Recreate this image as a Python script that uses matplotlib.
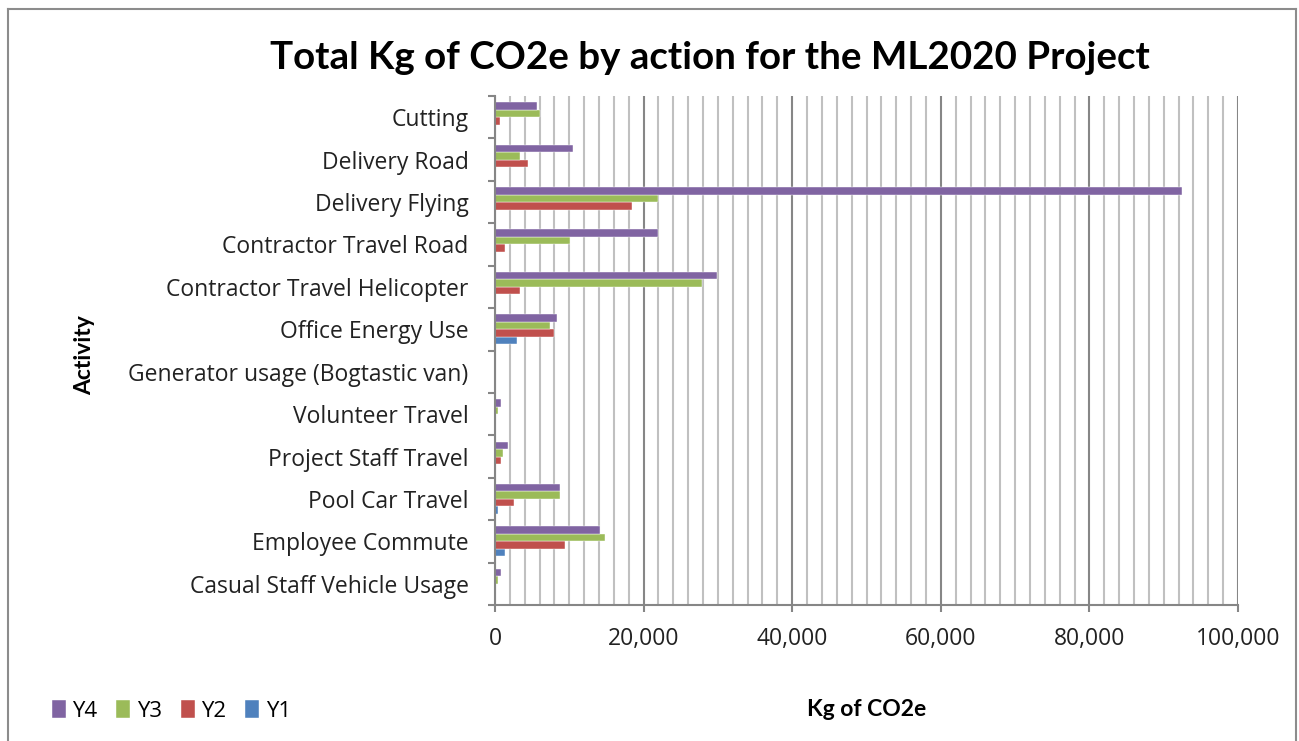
import matplotlib
matplotlib.use("Agg")
import matplotlib.pyplot as plt
from matplotlib.lines import Line2D
from matplotlib.ticker import MultipleLocator, FuncFormatter, FixedLocator
import numpy as np

plt.rcParams['font.family'] = ['Open Sans', 'DejaVu Sans']

categories = ["Cutting", "Delivery Road", "Delivery Flying", "Contractor Travel Road",
              "Contractor Travel Helicopter", "Office Energy Use",
              "Generator usage (Bogtastic van)", "Volunteer Travel", "Project Staff Travel",
              "Pool Car Travel", "Employee Commute", "Casual Staff Vehicle Usage"]
y4 = [5700, 10500, 92400, 21900, 29900, 8400, 0, 850, 1700, 8800, 14100, 750]
y3 = [6100, 3400, 22000, 10100, 27900, 7400, 0, 350, 1050, 8800, 14800, 350]
y2 = [700, 4500, 18400, 1400, 3400, 7900, 0, 0, 850, 2600, 9400, 0]
y1 = [0, 0, 0, 0, 0, 3000, 0, 0, 0, 350, 1400, 0]
series_names = ["Y1", "Y2", "Y3", "Y4"]
series_colors = ["#4F81BD", "#C0504D", "#9BBB59", "#8064A2"]
series_values = [y1, y2, y3, y4]

W, H = 1299, 741
fig = plt.figure(figsize=(W / 100, H / 100), dpi=100)
ax = fig.add_axes([495 / W, 1 - 605 / H, 743 / W, 509 / H])

n = len(categories)
pos = np.arange(n)[::-1]  # Cutting at top
h = 0.177
offsets = [-1.5 * h, -0.5 * h, 0.5 * h, 1.5 * h]
handles = []
for name, col, vals, off in zip(series_names, series_colors, series_values, offsets):
    b = ax.barh(pos + off, vals, height=h, color=col, edgecolor='white', linewidth=0.3,
                label=name, zorder=3)
    handles.append(b)

ax.set_xlim(0, 100000)
ax.set_ylim(-0.5, n - 0.5)

# grid
ax.xaxis.set_major_locator(MultipleLocator(20000))
ax.xaxis.set_minor_locator(MultipleLocator(2000))
ax.xaxis.set_major_formatter(FuncFormatter(lambda v, p: f"{int(v):,}"))
ax.grid(axis='x', which='minor', color='#C0C0C0', lw=1.5, zorder=0)
ax.grid(axis='x', which='major', color='#868686', lw=1.5, zorder=1)
ax.set_axisbelow(True)

ax.set_yticks(pos)
ax.set_yticklabels(categories)
ax.yaxis.set_minor_locator(FixedLocator(np.arange(n + 1) - 0.5))
ax.tick_params(axis='y', which='major', length=0, pad=19, labelsize=16.5, labelcolor='#222222')
ax.tick_params(axis='y', which='minor', length=5, width=1.5, color='#868686', direction='out')
ax.tick_params(axis='x', which='major', length=5, width=1.5, color='#868686', direction='out',
               pad=11, labelsize=16.5, labelcolor='#222222')
ax.tick_params(axis='x', which='minor', length=0)

for s in ['top', 'right']:
    ax.spines[s].set_visible(False)
for s in ['left', 'bottom']:
    ax.spines[s].set_color('#868686')
    ax.spines[s].set_linewidth(1.5)
    ax.spines[s].set_zorder(4)

fig.text(710 / W, 1 - 58 / H, "Total Kg of CO2e by action for the ML2020 Project",
         ha='center', va='center', fontsize=27.7, fontweight='bold', color='black',
         family=['Lato', 'DejaVu Sans'])
fig.text(867 / W, 1 - 710 / H, "Kg of CO2e", ha='center', va='center',
         fontsize=16.5, fontweight='bold', color='black', family=['Lato', 'DejaVu Sans'])
fig.text(85 / W, 1 - 355 / H, "Activity", ha='center', va='center', rotation=90,
         fontsize=16.5, fontweight='bold', color='black', family=['Lato', 'DejaVu Sans'])

leg_handles = handles[::-1]
fig.legend(leg_handles, [hh.get_label() for hh in leg_handles], loc='center left',
           bbox_to_anchor=(52 / W, 1 - 711 / H), ncol=4, frameon=False, fontsize=16,
           handlelength=0.62, handleheight=0.85, handletextpad=0.3, columnspacing=0.85,
           borderaxespad=0, borderpad=0)

# outer chart border
bc = '#8C8C8C'
fig.add_artist(Line2D([8 / W, 8 / W], [0, 1 - 9 / H], transform=fig.transFigure, color=bc, lw=1.5))
fig.add_artist(Line2D([8 / W, 1296 / W], [1 - 9 / H, 1 - 9 / H], transform=fig.transFigure, color=bc, lw=1.5))
fig.add_artist(Line2D([1296 / W, 1296 / W], [0, 1 - 9 / H], transform=fig.transFigure, color=bc, lw=1.5))

fig.savefig("out.png", dpi=100)
